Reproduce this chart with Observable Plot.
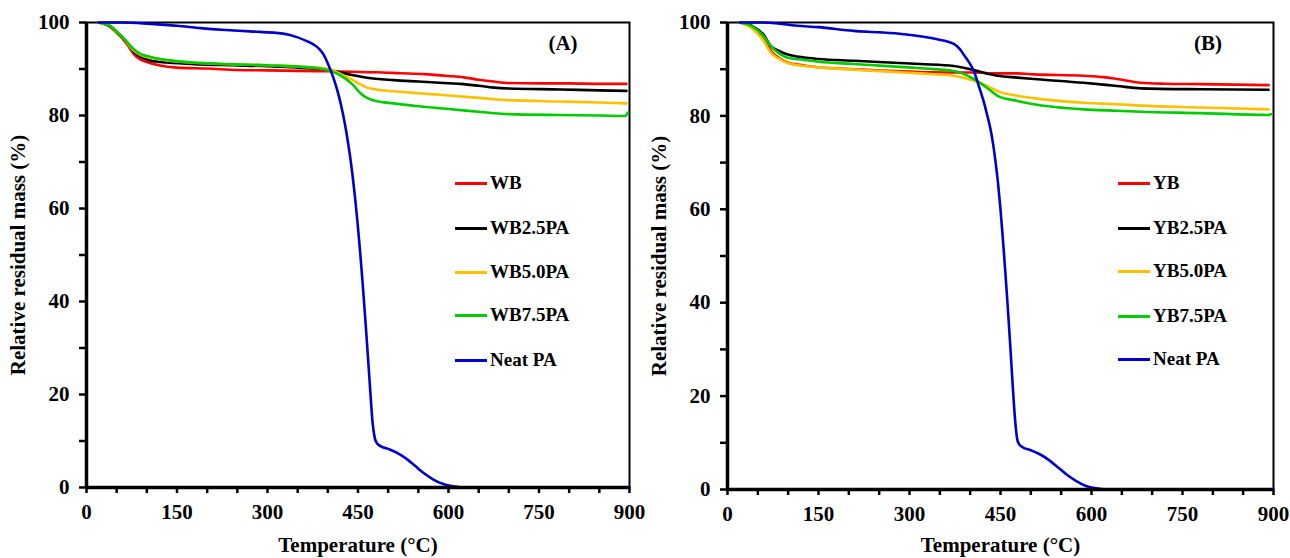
<!DOCTYPE html>
<html>
<head>
<meta charset="utf-8">
<script src="https://cdn.jsdelivr.net/npm/d3@7"></script>
<script src="https://cdn.jsdelivr.net/npm/@observablehq/plot@0.6"></script>
<style>
  html, body { margin: 0; padding: 0; background: #fff; }
  #fig { position: relative; width: 1290px; height: 558px; display: flex; }
  .leg { position: absolute; display: flex; align-items: center; font: bold 19px "Liberation Serif", serif; color: #000; transform: translateY(-50%); white-space: nowrap; }
  .leg span.sw { display: inline-block; width: 32px; height: 3px; margin-right: 3px; }
  .plabel { position: absolute; font: bold 21px "Liberation Serif", serif; transform: translate(-50%, -50%); }
</style>
</head>
<body>
<div id="fig"></div>
<script>
// ---------- Data ----------
const namesA = ["WB", "WB2.5PA", "WB5.0PA", "WB7.5PA", "Neat PA"];
const namesB = ["YB", "YB2.5PA", "YB5.0PA", "YB7.5PA", "Neat PA"];
const colors = ["#ff0000", "#000000", "#ffc000", "#00cc00", "#0000cc"];
const xTicks = [0, 150, 300, 450, 600, 750, 900];
const yTicks = [0, 20, 40, 60, 80, 100];

// Panel A
const tA_WB   = [20, 40, 50, 60, 70, 80, 90, 100, 120, 150, 200, 250, 300, 350, 400, 440, 480, 520, 560, 600, 625, 650, 675, 700, 750, 800, 850, 895];
const mA_WB   = [100, 99, 97.8, 96.5, 94.8, 93.0, 92.0, 91.5, 90.8, 90.3, 90.1, 89.8, 89.7, 89.6, 89.5, 89.4, 89.3, 89.1, 88.9, 88.5, 88.2, 87.7, 87.3, 87.0, 86.9, 86.9, 86.8, 86.8];
const tA_WB25 = [20, 40, 50, 60, 70, 80, 90, 106, 133, 189, 243, 300, 350, 380, 404, 420, 440, 465, 509, 550, 592, 620, 650, 675, 700, 786, 850, 895];
const mA_WB25 = [100, 99.1, 98.0, 96.8, 95.2, 93.5, 92.6, 91.8, 91.4, 91.0, 90.8, 90.6, 90.3, 90.1, 89.8, 89.3, 88.7, 88.1, 87.6, 87.3, 87.0, 86.8, 86.4, 86.0, 85.8, 85.6, 85.4, 85.3];
const tA_WB50 = [20, 40, 51, 60, 70, 78, 90, 106, 150, 243, 300, 380, 404, 420, 440, 454, 465, 480, 509, 550, 592, 650, 675, 700, 786, 850, 895];
const mA_WB50 = [100, 99.2, 97.9, 96.8, 95.2, 94.0, 93.0, 92.4, 91.6, 91.0, 90.8, 90.3, 89.9, 89.0, 87.7, 86.7, 86.0, 85.6, 85.2, 84.8, 84.4, 83.8, 83.5, 83.3, 83.0, 82.8, 82.6];
const tA_WB75 = [20, 40, 51, 60, 70, 78, 90, 106, 150, 243, 300, 380, 404, 420, 440, 454, 465, 480, 509, 550, 592, 650, 675, 700, 786, 850, 893, 897];
const mA_WB75 = [100, 99.2, 97.9, 96.8, 95.4, 94.3, 93.2, 92.6, 91.7, 91.0, 90.8, 90.2, 89.6, 88.7, 86.8, 84.8, 83.8, 83.1, 82.6, 82.0, 81.5, 80.8, 80.5, 80.3, 80.1, 80.0, 79.9, 80.6];
const tA_PA   = [20, 60, 106, 150, 189, 230, 271, 326, 350, 365, 376, 386, 392, 400, 409, 417, 425, 431, 437, 441, 445, 449, 453, 457, 462, 466, 470, 474, 477, 480, 486, 500, 514, 530, 545, 560, 575, 590, 605, 620, 700, 800, 900];
const mA_PA   = [100, 100, 99.7, 99.3, 98.8, 98.4, 98.1, 97.6, 96.8, 96.0, 95.3, 94.3, 93.3, 91.2, 88.2, 84.8, 80.4, 76.2, 71.1, 67.1, 62.5, 57.3, 51.5, 45.1, 36.4, 29.0, 21.4, 14.2, 11.2, 9.8, 9.0, 8.3, 7.5, 6.2, 4.6, 3.0, 1.7, 0.8, 0.3, 0.05, 0, 0, 0];

// Panel B
const tB_YB   = [20, 40, 60, 71, 85, 98, 126, 150, 208, 318, 373, 406, 445, 478, 505, 587, 620, 642, 681, 720, 780, 892];
const mB_YB   = [100, 99, 96.5, 94.0, 92.4, 91.5, 90.8, 90.4, 90.0, 89.4, 89.3, 89.3, 89.1, 89.1, 88.9, 88.6, 88.3, 87.9, 87.1, 86.9, 86.8, 86.6];
const tB_YB25 = [20, 40, 60, 71, 85, 98, 126, 150, 208, 318, 373, 406, 445, 478, 505, 587, 642, 681, 780, 892];
const mB_YB25 = [100, 99.3, 97.3, 95.0, 93.9, 93.2, 92.5, 92.2, 91.8, 91.1, 90.7, 89.8, 88.6, 88.2, 87.9, 87.1, 86.4, 85.9, 85.7, 85.6];
const tB_YB50 = [20, 40, 60, 71, 85, 98, 126, 150, 208, 318, 373, 406, 430, 445, 478, 505, 587, 642, 681, 780, 892];
const mB_YB50 = [100, 98.8, 96.0, 93.6, 92.2, 91.4, 90.7, 90.4, 89.9, 89.1, 88.6, 87.5, 86.3, 85.3, 84.3, 83.8, 82.8, 82.5, 82.2, 81.8, 81.4];
const tB_YB75 = [20, 40, 60, 71, 85, 98, 126, 150, 208, 318, 373, 406, 430, 445, 478, 505, 587, 642, 681, 780, 892, 896];
const mB_YB75 = [100, 99.2, 97.0, 95.0, 93.4, 92.5, 92.0, 91.6, 91.1, 90.2, 89.6, 87.9, 85.8, 84.3, 83.2, 82.5, 81.4, 81.1, 80.9, 80.6, 80.2, 80.4];
const tB_PA   = [20, 60, 115, 150, 208, 250, 290, 346, 373, 383, 389, 398, 406, 414, 422, 428, 433, 438, 442, 446, 450, 454, 458, 462, 466, 470, 474, 477, 480, 486, 500, 514, 530, 545, 560, 575, 590, 605, 620, 700, 800, 900];
const mB_PA   = [100, 100, 99.3, 99.0, 98.2, 97.9, 97.5, 96.4, 95.4, 94.3, 93.2, 91.5, 89.6, 86.5, 83.2, 80.2, 77.5, 73.8, 70.0, 65.5, 60.0, 53.5, 46.5, 39.0, 31.0, 22.5, 15.0, 11.2, 9.8, 9.1, 8.4, 7.6, 6.3, 4.7, 3.1, 1.8, 0.8, 0.3, 0.05, 0, 0, 0];

// ---------- Drawing ----------
function rowsOf(names, temps, masses) {
  return names.flatMap((n, i) => temps[i].map((t, j) => ({series: n, temp: t, mass: masses[i][j]})));
}

function panel(names, temps, masses, m) {
  const rows = rowsOf(names, temps, masses);
  return Plot.plot({
    width: 645, height: 558,
    marginTop: m.top, marginBottom: m.bottom, marginLeft: m.left, marginRight: m.right,
    style: {fontFamily: "'Liberation Serif', serif", fontWeight: "bold", fontSize: "21px", color: "#000", background: "#fff", overflow: "visible"},
    x: {domain: [0, 900]},
    y: {domain: [0, 100]},
    color: {domain: names, range: colors},
    marks: [
      Plot.frame({stroke: "#000", strokeWidth: 2}),
      Plot.axisY({ticks: d3.range(0, 101, 10), tickFormat: d => yTicks.includes(d) ? d : "", tickSize: 7, tickPadding: 10, strokeWidth: 2.5,
                  label: "Relative residual mass (%)", labelAnchor: "center", labelArrow: "none", labelOffset: m.ylab}),
      Plot.axisX({ticks: d3.range(0, 901, 50), tickFormat: d => xTicks.includes(d) ? d : "", tickSize: 6, tickPadding: 11, strokeWidth: 2.5,
                  label: "Temperature (°C)", labelAnchor: "center", labelArrow: "none", labelOffset: m.xlab}),
      Plot.line(rows, {x: "temp", y: "mass", z: "series", stroke: "series", curve: "monotone-x", strokeWidth: 2.6}),
      Plot.ruleX([0], {stroke: "#000", strokeWidth: 3.5}),
      Plot.ruleY([0], {stroke: "#000", strokeWidth: 3.5})
    ]
  });
}

const fig = document.getElementById("fig");
fig.appendChild(panel(namesA, [tA_WB, tA_WB25, tA_WB50, tA_WB75, tA_PA], [mA_WB, mA_WB25, mA_WB50, mA_WB75, mA_PA],
  {top: 22, bottom: 71, left: 86, right: 16, ylab: 76, xlab: 64}));
fig.appendChild(panel(namesB, [tB_YB, tB_YB25, tB_YB50, tB_YB75, tB_PA], [mB_YB, mB_YB25, mB_YB50, mB_YB75, mB_PA],
  {top: 22, bottom: 69, left: 82, right: 17, ylab: 76, xlab: 62}));

// Legends and panel labels (HTML overlay)
function legend(names, x, ys) {
  names.forEach((n, i) => {
    const d = document.createElement("div");
    d.className = "leg";
    d.style.left = x + "px";
    d.style.top = ys[i] + "px";
    const sw = document.createElement("span");
    sw.className = "sw";
    sw.style.background = colors[i];
    d.appendChild(sw);
    d.appendChild(document.createTextNode(n));
    fig.appendChild(d);
  });
}
legend(namesA, 455, [183, 228, 272, 315, 360]);
legend(namesB, 1118, [183, 228, 271, 316, 359]);

function plabel(t, x, y) {
  const d = document.createElement("div");
  d.className = "plabel";
  d.textContent = t;
  d.style.left = x + "px";
  d.style.top = y + "px";
  fig.appendChild(d);
}
plabel("(A)", 563, 43);
plabel("(B)", 1208, 43);
</script>
</body>
</html>
